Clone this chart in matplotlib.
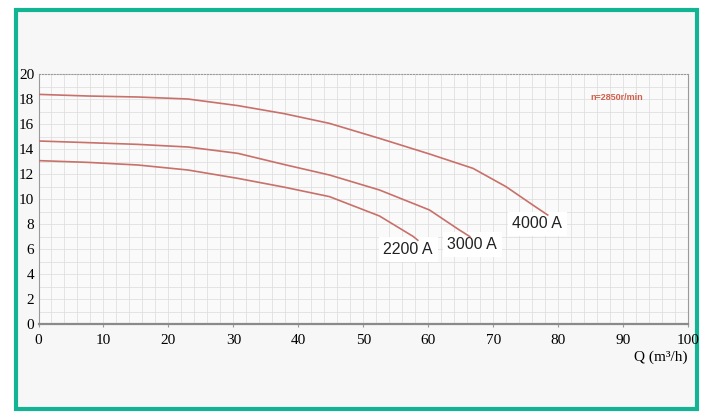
import numpy as np
import matplotlib.pyplot as plt
from matplotlib.patches import Rectangle

# pump curves: flow Q (m3/h) vs head (m)
q_4000 = [0, 7.6, 15.3, 23.0, 30.7, 37.8, 44.8, 52.5, 60.2, 66.9, 72.0, 76.1, 78.4]
h_4000 = [18.37, 18.24, 18.16, 18.0, 17.47, 16.83, 16.05, 14.85, 13.6, 12.45, 10.98, 9.52, 8.72]

q_3000 = [0, 7.6, 15.3, 23.0, 30.7, 37.8, 44.8, 52.5, 60.2, 64.8, 66.4]
h_3000 = [14.64, 14.51, 14.37, 14.16, 13.65, 12.76, 11.92, 10.72, 9.12, 7.52, 7.0]

q_2200 = [0, 7.6, 15.3, 23.0, 30.7, 37.8, 44.8, 52.5, 57.7, 58.4]
h_2200 = [13.07, 12.93, 12.72, 12.32, 11.65, 10.95, 10.19, 8.64, 7.0, 6.7]

curve_labels = ["4000 A", "3000 A", "2200 A"]
label_pos = [(76.8, 8.0), (66.8, 6.35), (56.9, 5.95)]

x_ticks = np.arange(0, 101, 10)
y_ticks = np.arange(0, 21, 2)

line_color = "#c8706a"
serif = ["Liberation Serif", "DejaVu Serif"]
sans = ["Liberation Sans", "DejaVu Sans"]

fig = plt.figure(figsize=(7.2, 4.2), dpi=100, facecolor="#ffffff")

# teal frame round the picture
frame = Rectangle((16 / 720, 1 - 409 / 420), 681 / 720, 399 / 420,
                  transform=fig.transFigure, facecolor="#f8f7f7",
                  edgecolor="#12b493", linewidth=3.0, zorder=-10)
fig.patches.append(frame)

ax = fig.add_axes([38.5 / 720, 1 - 324 / 420, 649.5 / 720, 250 / 420])
ax.set_zorder(1)
ax.set_facecolor("#fafafa")

for q, h in [(q_4000, h_4000), (q_3000, h_3000), (q_2200, h_2200)]:
    ax.plot(q, h, color=line_color, linewidth=1.2, zorder=4)

for text, (lx, ly) in zip(curve_labels, label_pos):
    ax.text(lx, ly, text, ha="center", va="center", fontsize=11.5, family=sans,
            color="#222222", zorder=3,
            bbox=dict(boxstyle="square,pad=0.3", facecolor="white", edgecolor="none"))

ax.text(89.0, 18.1, "n=2850r/min", ha="center", va="center", fontsize=6.5,
        color="#d0604c", fontweight="bold", family=sans)

ax.set_xlim(0, 100)
ax.set_ylim(0, 20)
ax.set_xticks(x_ticks)
ax.set_yticks(y_ticks)
ax.set_xticks(np.arange(0, 101, 2), minor=True)
ax.set_yticks(np.arange(0, 21, 1), minor=True)
ax.grid(True, which="both", color="#e0e0e0", linewidth=0.6)
ax.set_axisbelow(True)

for lab in ax.get_xticklabels() + ax.get_yticklabels():
    lab.set_family(serif)
    lab.set_fontsize(11)
ax.tick_params(axis="x", which="major", length=2, pad=5, color="#999999")
ax.tick_params(axis="y", which="major", length=0, pad=3)
ax.tick_params(which="minor", length=0)

for side in ["left", "right", "top"]:
    ax.spines[side].set_color("#9a9a9a")
    ax.spines[side].set_linewidth(0.8)
ax.spines["top"].set_linestyle(":")
ax.spines["bottom"].set_color("#8a8a8a")
ax.spines["bottom"].set_linewidth(1.6)

fig.text(687 / 720, 1 - 357 / 420, "Q (m\u00b3/h)", ha="right", va="center",
         fontsize=11, family=serif)

fig.savefig("out.png", dpi=100, facecolor=fig.get_facecolor())
